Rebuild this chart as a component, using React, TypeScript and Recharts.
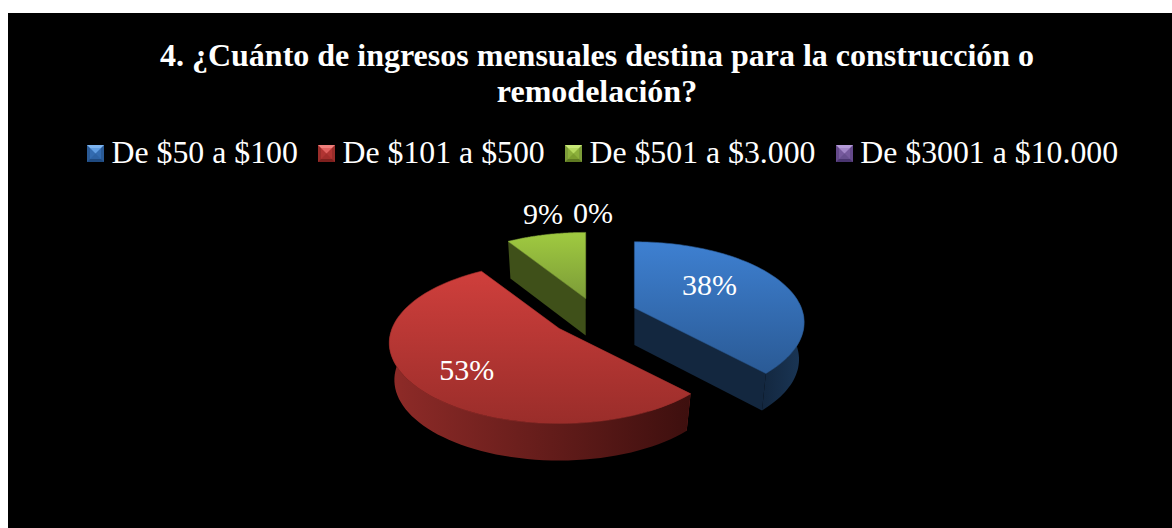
import React from 'react';
import { PieChart, Pie, Legend } from 'recharts';

const titleLines = [
  '4. ¿Cuánto de ingresos mensuales destina para la construcción o',
  'remodelación?',
];
const categories = ['De $50 a $100', 'De $101 a $500', 'De $501 a $3.000', 'De $3001 a $10.000'];
const values = [38, 53, 9, 0];

const topColors = [
  ['#3e80d1', '#2a5a95'],
  ['#cf3f3c', '#9a2d2a'],
  ['#a0ca40', '#7c9c38'],
  ['#8b6fb3', '#64498a'],
];
const wallColors = [
  ['#13273f', '#1a3656'],
  ['#8f2b28', '#3d0f0e'],
  ['#3f5019', '#2f3c15'],
  ['#3f2f57', '#2c2040'],
];
const iconEdge = ['#1f4a80', '#7e201e', '#5f7a22', '#4a3570'];
const iconLight = ['#7db4f0', '#ef7f7c', '#c8e878', '#b49ad8'];

// how far each slice is pulled out of the disc
const explodeBy = [0.247, 0.28, 0.22, 0.247];
// where each percent sits, along the radius, then a nudge in px
const labelRadius = [0.5, 0.65, 1, 1];
const labelNudge = [[0, -10], [0, 8], [-3, -21], [-3, -17]];

const tableData = categories.map((name, i) => ({ name, value: values[i] }));

const WIDTH = 1164;
const HEIGHT = 515;
const SQUASH = 78 / 167;
const PERSPECTIVE = 0.18;
const DEPTH = 37;
const BOTTOM_INSET = 0.97;
const RAD = Math.PI / 180;

// plane -> screen, the near side of the disc comes out bigger than the far side
function project(cx: number, cy: number, radius: number, r: number, angle: number) {
  const u = r * Math.cos(angle * RAD);
  const v = -r * Math.sin(angle * RAD);
  const s = 1 / (1 - PERSPECTIVE * v);
  return [cx + radius * u * s, cy + radius * SQUASH * v * s];
}

function explodeOffset(radius: number, midAngle: number, i: number) {
  return [
    radius * explodeBy[i] * Math.cos(midAngle * RAD),
    -radius * SQUASH * explodeBy[i] * Math.sin(midAngle * RAD),
  ];
}

const toPath = (pts: number[][]) =>
  pts.map((p, i) => `${i ? 'L' : 'M'}${p[0].toFixed(1)},${p[1].toFixed(1)}`).join(' ') + ' Z';

function Slice3D(props: any) {
  const { cx, cy, outerRadius, startAngle, endAngle, midAngle, name } = props;
  const i = categories.indexOf(name);
  if (Math.abs(endAngle - startAngle) < 0.01) return null;

  const [ox, oy] = explodeOffset(outerRadius, midAngle, i);
  const px = cx + ox;
  const py = cy + oy;
  // the bottom rim is a little narrower than the top one
  const down = (pts: number[][]) => pts.map((p) => [px + (p[0] - px) * BOTTOM_INSET, p[1] + DEPTH]);

  const arc: number[][] = [];
  const nearArc: number[][] = [];
  const steps = 80;
  for (let k = 0; k <= steps; k++) {
    const a = startAngle + ((endAngle - startAngle) * k) / steps;
    const pt = project(px, py, outerRadius, 1, a);
    arc.push(pt);
    // only the front of the rim ever shows
    if (Math.sin(a * RAD) < 0.2) nearArc.push(pt);
  }
  const apex = [px, py];
  const first = arc[0];
  const last = arc[arc.length - 1];

  const cutA = [apex, first, ...down([first, apex])];
  const cutB = [apex, last, ...down([last, apex])];
  const wall = [...nearArc, ...down(nearArc).reverse()];

  const topId = `top-${i}`;
  const wallId = `wall-${i}`;

  return (
    <g>
      <defs>
        <linearGradient id={topId} x1="0" y1="0" x2="0" y2="1">
          <stop offset="0%" stopColor={topColors[i][0]} />
          <stop offset="100%" stopColor={topColors[i][1]} />
        </linearGradient>
        <linearGradient id={wallId} x1="0" y1="0" x2="1" y2="0">
          <stop offset="0%" stopColor={wallColors[i][0]} />
          <stop offset="100%" stopColor={wallColors[i][1]} />
        </linearGradient>
      </defs>
      <path d={toPath(cutA)} fill={wallColors[i][0]} />
      <path d={toPath(cutB)} fill={wallColors[i][0]} />
      {nearArc.length > 1 && <path d={toPath(wall)} fill={`url(#${wallId})`} />}
      <path d={toPath([apex, ...arc])} fill={`url(#${topId})`} stroke={topColors[i][1]} strokeWidth={0.6} />
    </g>
  );
}

function percentLabel(props: any) {
  const { cx, cy, outerRadius, midAngle, percent, index } = props;
  const [ox, oy] = explodeOffset(outerRadius, midAngle, index);
  const [x, y] = project(cx + ox, cy + oy, outerRadius, labelRadius[index], midAngle);
  return (
    <text
      x={x + labelNudge[index][0]}
      y={y + labelNudge[index][1]}
      fill="#fff"
      fontSize={30}
      fontFamily="Liberation Serif"
      textAnchor="middle"
      dominantBaseline="central"
    >
      {`${Math.round(percent * 100)}%`}
    </text>
  );
}

function LegendIcon({ index }: { index: number }) {
  return (
    <svg width={17} height={17} style={{ display: 'block' }}>
      <rect width={17} height={17} fill={topColors[index][1]} />
      <polygon points="0,0 17,0 8.5,8.5" fill={iconLight[index]} />
      <polygon points="0,17 17,17 8.5,8.5" fill={iconEdge[index]} />
      <polygon points="3,3 14,3 14,14 3,14" fill={topColors[index][0]} opacity={0.45} />
    </svg>
  );
}

function LegendRow() {
  return (
    <div
      style={{
        display: 'flex',
        alignItems: 'center',
        marginLeft: 79,
        whiteSpace: 'nowrap',
        color: '#fff',
        fontFamily: 'Liberation Serif',
        fontSize: 31.8,
        lineHeight: '36px',
      }}
    >
      {categories.map((name, i) => (
        <div key={name} style={{ display: 'flex', alignItems: 'center', marginRight: 20.2 }}>
          <LegendIcon index={i} />
          <span style={{ marginLeft: 7.5 }}>{name}</span>
        </div>
      ))}
    </div>
  );
}

export default function App() {
  return (
    <div style={{ position: 'absolute', left: 8, top: 13, width: WIDTH, height: HEIGHT, background: '#000' }}>
      <PieChart width={WIDTH} height={HEIGHT} margin={{ top: 0, right: 0, bottom: 0, left: 0 }}>
        <text
          x={589}
          textAnchor="middle"
          fill="#fff"
          fontFamily="Liberation Serif"
          fontWeight="bold"
          fontSize={32}
        >
          <tspan x={589} y={53}>{titleLines[0]}</tspan>
          <tspan x={589} y={89}>{titleLines[1]}</tspan>
        </text>
        <Legend
          verticalAlign="top"
          content={<LegendRow />}
          wrapperStyle={{ position: 'absolute', top: 122, left: 0, width: WIDTH }}
        />
        <Pie
          data={tableData}
          dataKey="value"
          nameKey="name"
          cx={588}
          cy={266}
          innerRadius={0}
          outerRadius={167}
          startAngle={90}
          endAngle={-270}
          stroke="none"
          isAnimationActive={false}
          shape={Slice3D}
          label={percentLabel}
          labelLine={false}
        />
      </PieChart>
    </div>
  );
}
